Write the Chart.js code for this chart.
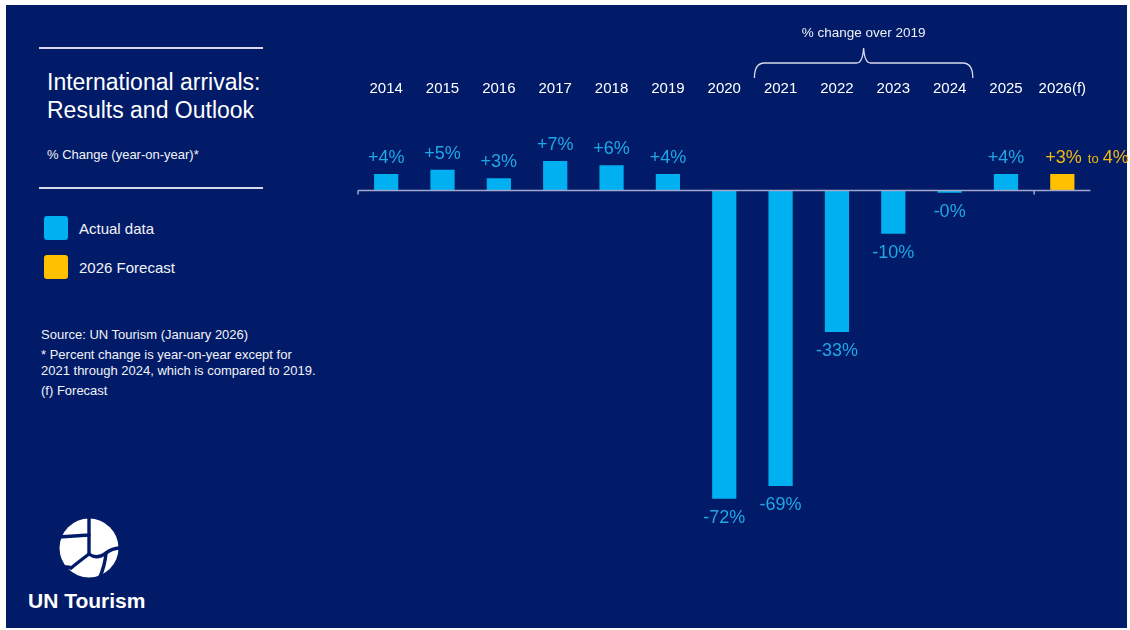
<!DOCTYPE html>
<html>
<head>
<meta charset="utf-8">
<title>International arrivals: Results and Outlook</title>
<script src="https://cdn.jsdelivr.net/npm/chart.js@4.4.1/dist/chart.umd.min.js"></script>
<style>
  html, body { margin: 0; padding: 0; background: #ffffff; width: 1130px; height: 630px; overflow: hidden; }
  body { position: relative; font-family: "Liberation Sans", Arial, sans-serif; color: #f2f3f8; }
  #slide { position: absolute; left: 6px; top: 5px; width: 1121px; height: 623px; background: #011b69; }
  #chart { position: absolute; left: 0; top: 0; }
  .rule { position: absolute; left: 39px; width: 224px; height: 1.5px; background: #d6d9ea; }
  .txt { position: absolute; white-space: nowrap; }
  .swatch { position: absolute; left: 44px; width: 24px; height: 24px; border-radius: 3px; }
</style>
</head>
<body>
<div id="slide"></div>

<div class="rule" style="top:47px"></div>
<div class="txt" style="left:47px; top:68px; font-size:23px; line-height:28px; color:#ffffff">International arrivals:<br>Results and Outlook</div>
<div class="txt" style="left:47px; top:147px; font-size:13px; line-height:16px">% Change (year-on-year)*</div>
<div class="rule" style="top:187px"></div>

<div class="swatch" id="swActual" style="top:216px"></div>
<div class="txt" id="lbActual" style="left:79px; top:220px; font-size:15px; line-height:18px"></div>
<div class="swatch" id="swForecast" style="top:255px"></div>
<div class="txt" id="lbForecast" style="left:79px; top:259px; font-size:15px; line-height:18px"></div>

<div class="txt" style="left:41px; top:327px; font-size:13px; line-height:16px">Source: UN Tourism (January 2026)</div>
<div class="txt" style="left:41px; top:347px; font-size:13px; line-height:16px">* Percent change is year-on-year except for</div>
<div class="txt" style="left:41px; top:363px; font-size:13px; line-height:16px">2021 through 2024, which is compared to 2019.</div>
<div class="txt" style="left:41px; top:383px; font-size:13px; line-height:16px">(f) Forecast</div>

<!-- globe mark -->
<svg style="position:absolute; left:59px; top:518px" width="60" height="60" viewBox="0 0 60 60">
  <circle cx="30" cy="30" r="29.5" fill="#ffffff"/>
  <g fill="none" stroke="#011b69" stroke-width="3.4" stroke-linecap="round" stroke-linejoin="round">
    <path d="M30,-1 L30,17 L-1,19"/>
    <path d="M30,17 L30,36 Q22,42 12,50"/>
    <path d="M30,36 Q38,42 47,35 Q54,30 61,30"/>
    <path d="M47,35 Q46,48 40,61"/>
    <path d="M3,50 Q8,48 12,50"/>
  </g>
</svg>
<div class="txt" style="left:28px; top:588px; font-size:21px; line-height:26px; font-weight:bold; color:#ffffff">UN Tourism</div>

<canvas id="chart" width="1130" height="630"></canvas>

<script>
// Year-on-year change in international tourist arrivals (%)
const years = ['2014', '2015', '2016', '2017', '2018', '2019', '2020', '2021', '2022', '2023', '2024', '2025', '2026(f)'];
const actualChange = [4, 5, 3, 7, 6, 4, -72, -69, -33, -10, -0.4, 4, null];
const forecastChange = [null, null, null, null, null, null, null, null, null, null, null, null, 4];
const forecastLow = 3;
const forecastHigh = 4;
// 2021-2024 are expressed against 2019
const vs2019Years = ['2021', '2024'];
const bracketTitle = '% change over 2019';
const seriesNames = ['Actual data', '2026 Forecast'];

const BLUE = '#00b0f0';
const BLUE_TEXT = '#1fa7e6';
const GOLD = '#ffc000';
const GOLD_TEXT = '#f2b90f';
const AXIS = '#a3a8cc';
const FONT = '"Liberation Sans", Arial, sans-serif';

document.getElementById('swActual').style.background = BLUE;
document.getElementById('swForecast').style.background = GOLD;
document.getElementById('lbActual').textContent = seriesNames[0];
document.getElementById('lbForecast').textContent = seriesNames[1];

function pct(v) {
  const r = Math.round(Math.abs(v));
  return (v > 0 ? '+' : '-') + r + '%';
}

// zero baseline with its two small ticks
const baselinePlugin = {
  id: 'baseline',
  afterDatasetsDraw(chart) {
    const { ctx, chartArea, scales } = chart;
    const y0 = Math.round(scales.y.getPixelForValue(0)) - 0.5;
    const x = scales.x;
    const half = (x.getPixelForValue(1) - x.getPixelForValue(0)) / 2;
    const split = x.getPixelForValue(years.length - 1) - half;
    ctx.save();
    ctx.strokeStyle = AXIS;
    ctx.lineWidth = 1.5;
    ctx.beginPath();
    ctx.moveTo(chartArea.left, y0);
    ctx.lineTo(chartArea.right, y0);
    ctx.moveTo(chartArea.left, y0);
    ctx.lineTo(chartArea.left, y0 + 4);
    ctx.moveTo(split, y0);
    ctx.lineTo(split, y0 + 4);
    ctx.stroke();
    ctx.restore();
  }
};

// value labels above / below the bars
const valueLabelPlugin = {
  id: 'valueLabels',
  afterDatasetsDraw(chart) {
    const { ctx } = chart;
    ctx.save();
    ctx.textBaseline = 'middle';
    chart.data.datasets.forEach((ds, di) => {
      const meta = chart.getDatasetMeta(di);
      meta.data.forEach((bar, i) => {
        const v = ds.data[i];
        if (v === null || v === undefined) return;
        if (di === 0) {
          ctx.font = '18px ' + FONT;
          ctx.fillStyle = BLUE_TEXT;
          ctx.textAlign = 'center';
          const y = v >= 0 ? bar.y - 16 : bar.y + 19;
          ctx.fillText(pct(v), bar.x, y);
        } else {
          const y = bar.y - 16;
          let x = bar.x - 17;
          ctx.fillStyle = GOLD_TEXT;
          ctx.textAlign = 'left';
          ctx.font = '18px ' + FONT;
          const a = pct(forecastLow);
          ctx.fillText(a, x, y);
          x += ctx.measureText(a).width + 6;
          ctx.font = '13px ' + FONT;
          ctx.fillText('to', x, y + 2);
          x += ctx.measureText('to').width + 4;
          ctx.font = '18px ' + FONT;
          ctx.fillText(Math.round(forecastHigh) + '%', x, y);
        }
      });
    });
    ctx.restore();
  }
};

// curly brace over the years compared against 2019
const bracePlugin = {
  id: 'brace',
  afterDraw(chart) {
    const { ctx, scales } = chart;
    const x = scales.x;
    const half = (x.getPixelForValue(1) - x.getPixelForValue(0)) / 2;
    const i0 = years.indexOf(vs2019Years[0]);
    const i1 = years.indexOf(vs2019Years[1]);
    const left = x.getPixelForValue(i0) - half + 2;
    const right = x.getPixelForValue(i1) + half - 5;
    const mid = (left + right) / 2;
    const yEnd = 78, yBar = 63, yPeak = 48;
    ctx.save();
    ctx.strokeStyle = '#d8dbec';
    ctx.lineWidth = 1.3;
    ctx.beginPath();
    ctx.moveTo(left, yEnd);
    ctx.quadraticCurveTo(left, yBar, left + 10, yBar);
    ctx.lineTo(mid - 7, yBar);
    ctx.quadraticCurveTo(mid - 1, yBar, mid, yPeak);
    ctx.quadraticCurveTo(mid + 1, yBar, mid + 7, yBar);
    ctx.lineTo(right - 10, yBar);
    ctx.quadraticCurveTo(right, yBar, right, yEnd);
    ctx.stroke();
    ctx.fillStyle = '#eef0f7';
    ctx.font = '13.5px ' + FONT;
    ctx.textAlign = 'center';
    ctx.textBaseline = 'middle';
    ctx.fillText(bracketTitle, mid, 33);
    ctx.restore();
  }
};

new Chart(document.getElementById('chart'), {
  type: 'bar',
  data: {
    labels: years,
    datasets: [
      { label: seriesNames[0], data: actualChange, backgroundColor: BLUE, borderWidth: 0, barPercentage: 0.43, categoryPercentage: 1 },
      { label: seriesNames[1], data: forecastChange, backgroundColor: GOLD, borderWidth: 0, barPercentage: 0.43, categoryPercentage: 1 }
    ]
  },
  options: {
    responsive: false,
    animation: false,
    events: [],
    layout: { padding: { left: 358, right: 39.5, top: 71.5, bottom: 97 } },
    plugins: { legend: { display: false }, tooltip: { enabled: false } },
    scales: {
      x: {
        position: 'top',
        stacked: true,
        grid: { display: false, drawTicks: false },
        border: { display: false },
        ticks: { color: '#ffffff', font: { family: FONT, size: 15 }, padding: 8, maxRotation: 0, autoSkip: false }
      },
      y: { display: false, stacked: true, min: -80, max: 20 }
    }
  },
  plugins: [baselinePlugin, valueLabelPlugin, bracePlugin]
});
</script>
</body>
</html>
